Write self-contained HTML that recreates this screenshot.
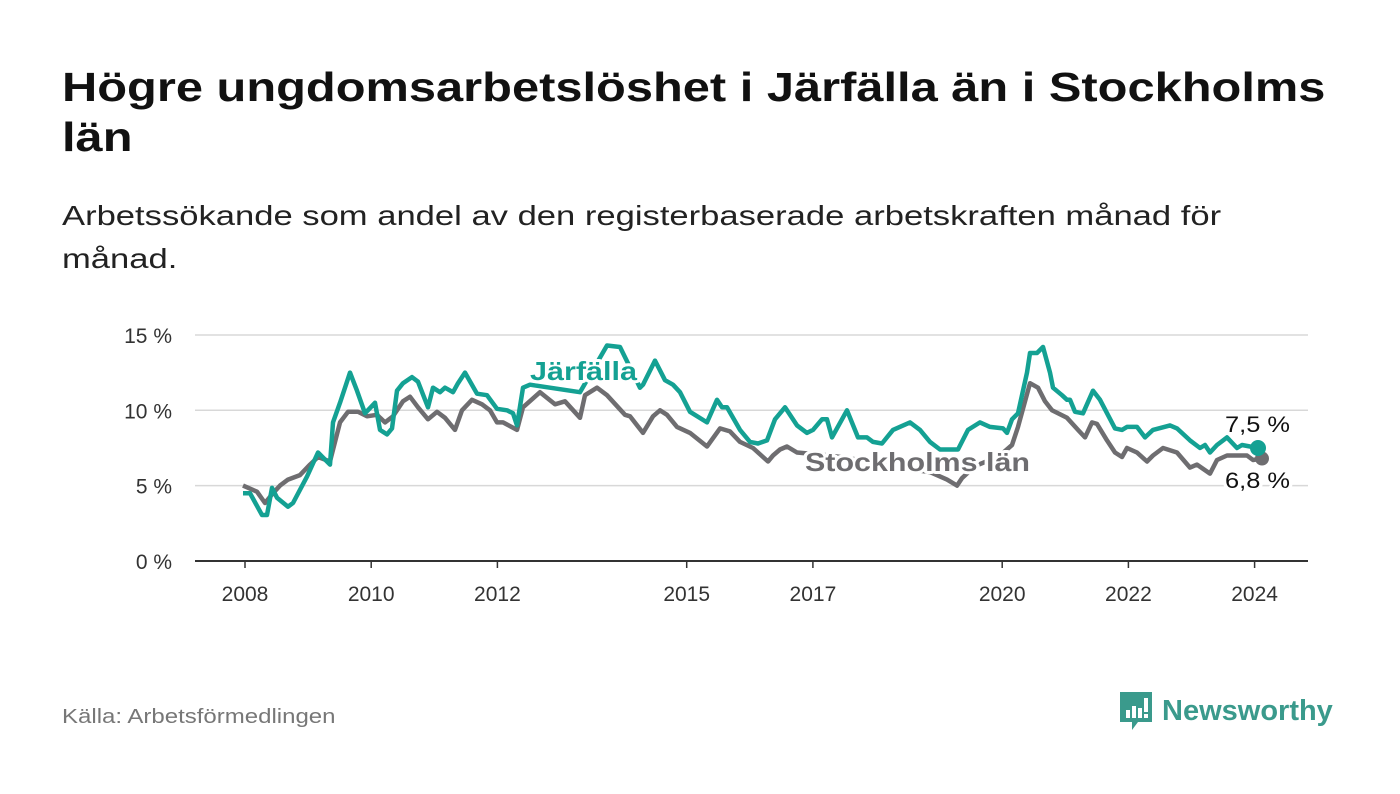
<!DOCTYPE html>
<html><head><meta charset="utf-8"><style>
body{margin:0;width:1400px;height:794px;background:#fff;font-family:"Liberation Sans",sans-serif;overflow:hidden;position:relative}
h1{position:absolute;left:62px;top:62px;margin:0;font-size:41px;line-height:50px;font-weight:bold;color:#111;transform:scaleX(1.19);transform-origin:left top;white-space:nowrap}
.sub{position:absolute;left:62px;top:194px;font-size:28px;line-height:43px;color:#222;transform:scaleX(1.235);transform-origin:left top;white-space:nowrap}
.src{position:absolute;left:62px;top:706px;font-size:20px;color:#777;transform:scaleX(1.2);transform-origin:left top;white-space:nowrap}
.logo{position:absolute;left:1118px;top:690px;display:flex;align-items:center}
.logo span{font-size:29px;font-weight:bold;color:#3a9a8c;margin-left:8px}
</style></head><body>
<h1>Högre ungdomsarbetslöshet i Järfälla än i Stockholms<br>län</h1>
<div class="sub">Arbetssökande som andel av den registerbaserade arbetskraften månad för<br>månad.</div>
<svg id="chart" width="1400" height="794" style="position:absolute;left:0;top:0"></svg>
<div class="src">Källa: Arbetsförmedlingen</div>
<div class="logo">
<svg width="36" height="42" viewBox="0 0 36 42"><path d="M2 2h32v30H20l-6 8v-8H2z" fill="#3a9a8c"/><rect x="8" y="20" width="4" height="8" fill="#fff"/><rect x="14" y="16" width="4" height="12" fill="#fff"/><rect x="20" y="18" width="4" height="10" fill="#fff"/><rect x="26" y="8" width="4" height="14" fill="#fff"/><rect x="26" y="24" width="4" height="4" fill="#fff"/></svg>
<span>Newsworthy</span></div>
<script>
const jX=[243,250,262,267,272,277,288,293,307,318,330,333,340,350,357,365,375,380,387,392,397,403,412,418,428,433,440,445,453,458,465,477,487,497,507,513,517,523,530,550,580,607,620,640,643,655,665,673,680,690,707,717,722,727,740,750,758,767,775,785,797,807,813,822,827,832,847,858,867,873,882,893,910,920,930,940,958,968,980,990,1003,1007,1012,1018,1027,1030,1037,1043,1050,1053,1062,1067,1070,1075,1083,1093,1100,1115,1122,1127,1137,1145,1153,1170,1177,1190,1200,1205,1210,1217,1227,1237,1242,1258];
const jarfalla=[4.5,4.5,3.05,3.05,4.85,4.2,3.6,3.85,5.6,7.2,6.4,9.2,10.5,12.5,11.3,9.8,10.5,8.7,8.4,8.8,11.3,11.8,12.2,11.9,10.2,11.5,11.2,11.5,11.2,11.8,12.5,11.1,11.0,10.1,10.0,9.8,9.0,11.5,11.7,11.5,11.2,14.3,14.2,11.5,11.7,13.3,12.0,11.7,11.2,9.9,9.2,10.7,10.2,10.2,8.7,7.9,7.8,8.0,9.4,10.2,9.0,8.5,8.7,9.4,9.4,8.2,10.0,8.2,8.2,7.9,7.8,8.7,9.2,8.7,7.9,7.4,7.4,8.7,9.2,8.9,8.8,8.5,9.4,9.8,12.5,13.8,13.8,14.2,12.5,11.5,11.0,10.7,10.7,9.9,9.8,11.3,10.7,8.8,8.7,8.9,8.9,8.2,8.7,9.0,8.8,8.0,7.5,7.7,7.2,7.7,8.2,7.5,7.7,7.5];
const sX=[243,257,265,273,280,288,300,310,318,330,340,348,358,367,377,385,393,403,410,418,428,437,445,455,462,472,482,490,497,503,517,523,540,555,565,580,585,597,607,625,630,643,653,660,667,677,690,707,720,730,740,753,768,773,780,787,797,830,870,900,930,947,957,962,975,990,1000,1012,1018,1030,1038,1045,1052,1067,1078,1085,1092,1097,1107,1115,1122,1127,1137,1147,1153,1163,1177,1190,1197,1210,1217,1227,1247,1253,1262];
const stockholm=[5.0,4.6,3.85,4.5,5.0,5.4,5.7,6.4,6.9,6.6,9.2,9.9,9.9,9.6,9.7,9.2,9.6,10.6,10.9,10.2,9.4,9.9,9.5,8.7,10.0,10.7,10.4,10.0,9.2,9.2,8.7,10.2,11.2,10.4,10.6,9.5,11.0,11.5,11.0,9.7,9.6,8.5,9.6,10.0,9.7,8.9,8.5,7.6,8.8,8.6,7.9,7.5,6.6,7.0,7.4,7.6,7.2,7.0,6.6,6.2,5.9,5.4,5.0,5.5,6.3,6.7,7.0,7.7,8.9,11.8,11.5,10.6,10.0,9.5,8.7,8.2,9.2,9.1,8.0,7.2,6.9,7.5,7.2,6.6,7.0,7.5,7.2,6.2,6.4,5.8,6.7,7.0,7.0,6.7,6.8];
const yTicks=[0,5,10,15];
const yLabels=["0 %","5 %","10 %","15 %"];
const xTicks=[2008,2010,2012,2015,2017,2020,2022,2024];
const NS="http://www.w3.org/2000/svg";
const svg=document.getElementById('chart');
const yS=v=>561-v*15.07;
const xS=t=>245+(t-2008)*63.1;
const pxToT=x=>2008+(x-245)/63.1;
function el(tag,attrs,parent){const e=document.createElementNS(NS,tag);for(const k in attrs)e.setAttribute(k,attrs[k]);(parent||svg).appendChild(e);return e;}
yTicks.forEach((v,i)=>{
  const g=el('line',{x1:195,x2:1308,y1:yS(v),y2:yS(v),stroke:v===0?'#333':'#d8d8d8','stroke-width':v===0?2:1.5});
  
  
  const t=el('text',{x:172,y:yS(v)+8,'text-anchor':'end','font-size':21,fill:'#333'});
  t.textContent=yLabels[i];
  
  
});
xTicks.forEach(yr=>{
  const m=el('line',{x1:xS(yr),x2:xS(yr),y1:561,y2:568,stroke:'#333','stroke-width':1.5});
  
  
  const t=el('text',{x:xS(yr),y:601,'text-anchor':'middle','font-size':21,fill:'#333'});
  t.textContent=yr;
  
  
});
function line(xs,vals,color,name){
  const d=xs.map((x,i)=>(i?'L':'M')+xS(pxToT(x)).toFixed(1)+' '+yS(vals[i]).toFixed(1)).join(' ');
  const p=el('path',{d:d,fill:'none',stroke:color,'stroke-width':4.5,'stroke-linejoin':'round'});
  
  
}
line(sX,stockholm,'#6e6d70','stockholm-line');
line(jX,jarfalla,'#14a193','jarfalla-line');
const dS=el('circle',{cx:xS(pxToT(sX[sX.length-1])),cy:yS(stockholm[stockholm.length-1]),r:7,fill:'#6e6d70'});


const dJ=el('circle',{cx:xS(pxToT(jX[jX.length-1])),cy:yS(jarfalla[jarfalla.length-1]),r:8,fill:'#14a193'});


function label(x,y,txt,color,bold,name,size,len){
  const t=el('text',{x:x,y:y,'font-size':size,fill:color,'font-weight':bold?'bold':'normal',stroke:'#fff','stroke-width':6,'paint-order':'stroke','stroke-linejoin':'round',textLength:len,lengthAdjust:'spacingAndGlyphs'});
  t.textContent=txt;
  
  
}
label(530,380,'Järfälla','#14a193',true,'jarfalla-label',26,107);
label(805,471,'Stockholms län','#6e6d70',true,'stockholm-label',26,225);
label(1225,432,'7,5 %','#111',false,'jarfalla-end-value',22,65);
label(1225,488,'6,8 %','#111',false,'stockholm-end-value',22,65);
</script>
</body></html>
